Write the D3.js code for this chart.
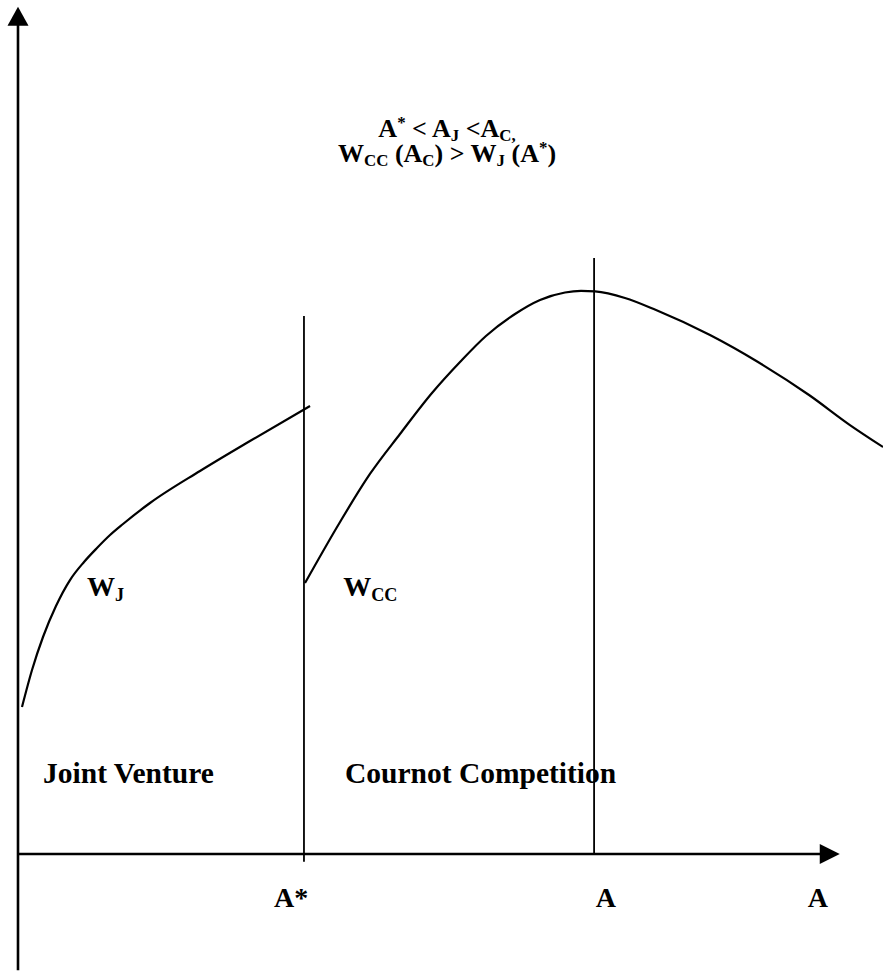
<!DOCTYPE html>
<html>
<head>
<meta charset="utf-8">
<script src="https://cdn.jsdelivr.net/npm/d3@7"></script>
<style>
  html, body { margin: 0; padding: 0; background: #fff; }
  svg { display: block; }
  text { font-family: "Liberation Serif", "Times New Roman", serif; font-weight: bold; fill: #000; }
</style>
</head>
<body>
<script>
// ---- Data (abstract units: x 0..100, y 0..100) ----
const wjCurve = [
  [0.46, 17.21], [1.62, 21.55], [2.89, 25.41], [4.39, 29.04], [6.01, 32.08],
  [7.63, 34.19], [9.13, 35.83], [10.64, 37.35], [12.14, 38.64], [15.26, 41.10],
  [21.04, 44.85], [26.82, 48.36], [33.76, 52.46]
];
const wccCurve = [
  [33.18, 31.73], [37.23, 38.88], [40.69, 44.50], [44.16, 49.18], [47.86, 53.98],
  [51.10, 57.61], [54.10, 60.66], [57.46, 63.23], [60.35, 64.87], [63.24, 65.75],
  [65.09, 65.93], [66.71, 65.87], [70.17, 65.11], [73.76, 63.70], [80.00, 60.77],
  [85.55, 57.61], [91.45, 53.75], [96.18, 50.23], [100, 47.66]
];
const verticalLines = [
  { x: 33.06, y0: -0.9, y1: 63.0 },   // A*
  { x: 66.6,  y0: 0,    y1: 69.8 }    // A
];
const xAxisEnd = 95.0;
const yAxisTop = 99.2;
const yAxisBottom = -13.6;
const tickLabels = [
  { x: 29.6, parts: [["A", "n"], ["*", "n"]] },
  { x: 66.8, parts: [["A", "n"]] },
  { x: 91.3, parts: [["A", "n"]] }
];
const curveLabels = [
  { x: 7.98, y: 30.2, parts: [["W", "n"], ["J", "sub"]] },
  { x: 37.6, y: 30.2, parts: [["W", "n"], ["CC", "sub"]] }
];
const regionLabels = [
  { x: 2.9,  y: 8.3, text: "Joint Venture" },
  { x: 37.8, y: 8.3, text: "Cournot Competition" }
];
const titleLines = [
  [["A", "n"], ["*", "sup"], [" < A", "n"], ["J", "sub"], [" <A", "n"], ["C,", "sub"]],
  [["W", "n"], ["CC", "sub"], [" (A", "n"], ["C", "sub"], [") > W", "n"], ["J", "sub"], [" (A", "n"], ["*", "sup"], [")", "n"]]
];

// ---- Layout ----
const W = 883, H = 972;
const svg = d3.select("body").append("svg").attr("width", W).attr("height", H);
const x = d3.scaleLinear().domain([0, 100]).range([18, 883]);
const y = d3.scaleLinear().domain([0, 100]).range([854, 0]);

// axes
svg.append("line")
  .attr("x1", x(0)).attr("x2", x(0)).attr("y1", y(yAxisBottom)).attr("y2", y(yAxisTop) + 12)
  .attr("stroke", "#000").attr("stroke-width", 2.6);
svg.append("path")
  .attr("d", `M${x(0)},${y(yAxisTop)} L${x(0) - 10.5},${y(yAxisTop) + 19} L${x(0) + 10.5},${y(yAxisTop) + 19} Z`)
  .attr("fill", "#000");
svg.append("line")
  .attr("x1", x(0)).attr("x2", x(xAxisEnd) - 12).attr("y1", y(0)).attr("y2", y(0))
  .attr("stroke", "#000").attr("stroke-width", 2.4);
svg.append("path")
  .attr("d", `M${x(xAxisEnd)},${y(0)} L${x(xAxisEnd) - 20},${y(0) - 10} L${x(xAxisEnd) - 20},${y(0) + 10} Z`)
  .attr("fill", "#000");

// vertical lines
svg.selectAll("line.v").data(verticalLines).enter().append("line")
  .attr("class", "v")
  .attr("x1", d => x(d.x)).attr("x2", d => x(d.x))
  .attr("y1", d => y(d.y0)).attr("y2", d => y(d.y1))
  .attr("stroke", "#000").attr("stroke-width", 1.8);

// curves
const line = d3.line().x(d => x(d[0])).y(d => y(d[1])).curve(d3.curveMonotoneX);
[wjCurve, wccCurve].forEach(c => {
  svg.append("path").attr("d", line(c)).attr("fill", "none")
    .attr("stroke", "#000").attr("stroke-width", 2.2);
});

// rich text helper
function rich(sel, parts, size) {
  let shift = 0;
  parts.forEach(([t, kind]) => {
    let target = kind === "sub" ? size * 0.16 : kind === "sup" ? -size * 0.36 : 0;
    sel.append("tspan")
      .attr("dy", target - shift)
      .attr("font-size", kind === "n" ? size : size * 0.65)
      .text(t);
    shift = target;
  });
}

// title
const titleBase = [137, 162];
titleLines.forEach((parts, i) => {
  const t = svg.append("text").attr("x", x(49.6)).attr("y", titleBase[i])
    .attr("text-anchor", "middle").attr("font-size", 26);
  rich(t, parts, 26);
});

// curve labels
curveLabels.forEach(l => {
  const t = svg.append("text").attr("x", x(l.x)).attr("y", y(l.y)).attr("font-size", 28);
  rich(t, l.parts, 28);
});

// region labels
svg.selectAll("text.region").data(regionLabels).enter().append("text")
  .attr("class", "region")
  .attr("x", d => x(d.x)).attr("y", d => y(d.y))
  .attr("font-size", 29.5)
  .text(d => d.text);

// tick labels
tickLabels.forEach(l => {
  const t = svg.append("text").attr("x", x(l.x)).attr("y", y(-6.2)).attr("font-size", 28);
  rich(t, l.parts, 28);
});
</script>
</body>
</html>
